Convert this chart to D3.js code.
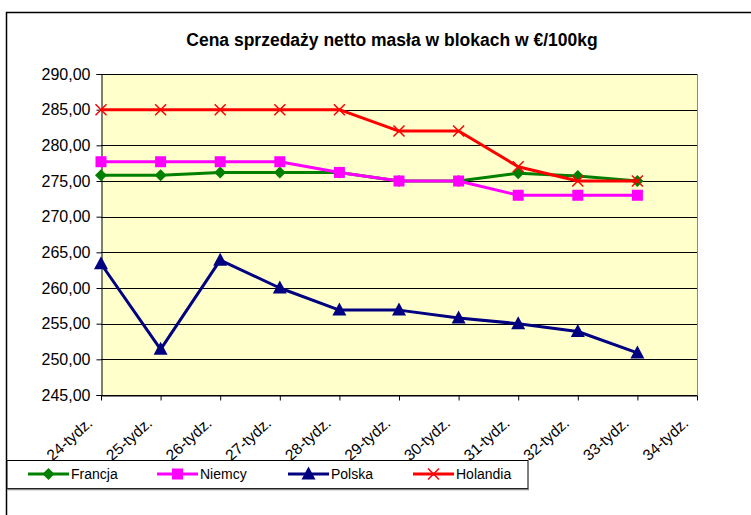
<!DOCTYPE html>
<html>
<head>
<meta charset="utf-8">
<script src="https://cdn.jsdelivr.net/npm/d3@7"></script>
<style>
  body { margin: 0; background: #fff; }
  svg { display: block; font-family: Arial, "Liberation Sans", sans-serif; }
</style>
</head>
<body>
<svg width="751" height="515"></svg>
<script>
const weeks = ['24-tydz.', '25-tydz.', '26-tydz.', '27-tydz.', '28-tydz.', '29-tydz.',
  '30-tydz.', '31-tydz.', '32-tydz.', '33-tydz.', '34-tydz.'];
const francja  = [275.8, 275.8, 276.2, 276.2, 276.2, 275.0, 275.0, 276.1, 275.7, 275.0];
const niemcy   = [277.7, 277.7, 277.7, 277.7, 276.2, 275.0, 275.0, 273.0, 273.0, 273.0];
const polska   = [263.4, 251.4, 263.9, 260.0, 256.9, 256.9, 255.8, 255.0, 253.9, 250.9];
const holandia = [285.0, 285.0, 285.0, 285.0, 285.0, 282.0, 282.0, 277.0, 275.0, 275.0];
const yTicks = [245, 250, 255, 260, 265, 270, 275, 280, 285, 290];

const series = [
  {name: 'Francja', values: francja, color: '#008000', marker: 'diamond'},
  {name: 'Niemcy', values: niemcy, color: '#ff00ff', marker: 'square'},
  {name: 'Polska', values: polska, color: '#000080', marker: 'triangle'},
  {name: 'Holandia', values: holandia, color: '#ff0000', marker: 'cross'},
];

const plot = {left: 101, right: 697, top: 74, bottom: 395};

const svg = d3.select('svg');

// outer chart border (runs off the right and bottom edge)
svg.append('rect')
  .attr('x', 6.5).attr('y', 12.5)
  .attr('width', 800).attr('height', 600)
  .attr('fill', 'none')
  .attr('stroke', '#000')
  .attr('stroke-width', 1.5);

svg.append('text')
  .attr('x', 392).attr('y', 46)
  .attr('text-anchor', 'middle')
  .attr('font-size', 17.5)
  .attr('font-weight', 'bold')
  .text('Cena sprzedaży netto masła w blokach w €/100kg');

const x = d3.scalePoint()
  .domain(weeks)
  .range([plot.left, plot.right]);

const y = d3.scaleLinear()
  .domain([245, 290])
  .range([plot.bottom, plot.top]);

svg.append('rect')
  .attr('x', plot.left).attr('y', plot.top)
  .attr('width', plot.right - plot.left)
  .attr('height', plot.bottom - plot.top)
  .attr('fill', '#ffffcc');

// gridlines
svg.append('g')
  .selectAll('line')
  .data(yTicks)
  .join('line')
  .attr('x1', plot.left).attr('x2', plot.right)
  .attr('y1', d => Math.round(y(d)) + 0.5)
  .attr('y2', d => Math.round(y(d)) + 0.5)
  .attr('stroke', '#000');

svg.append('line')
  .attr('x1', plot.right + 0.5).attr('x2', plot.right + 0.5)
  .attr('y1', plot.top).attr('y2', plot.bottom)
  .attr('stroke', '#888');

const yAxis = d3.axisLeft(y)
  .tickValues(yTicks)
  .tickSize(5)
  .tickPadding(6)
  .tickFormat(d => d.toFixed(2).replace('.', ','));

{
  const g = svg.append('g')
    .attr('transform', `translate(${plot.left + 0.5},0)`)
    .call(yAxis);
  g.select('.domain').attr('stroke', '#000');
  g.selectAll('.tick text')
    .attr('font-size', 16)
    .attr('fill', '#000')
    .attr('font-family', 'Arial, "Liberation Sans", sans-serif');
}

const xAxis = d3.axisBottom(x).tickSize(5).tickSizeOuter(0);

{
  const g = svg.append('g')
    .attr('transform', `translate(0,${plot.bottom + 0.5})`)
    .call(xAxis);
  g.selectAll('.tick text')
    .attr('font-size', 15.5)
    .attr('fill', '#000')
    .attr('font-family', 'Arial, "Liberation Sans", sans-serif')
    .attr('text-anchor', 'end')
    .attr('dy', 0)
    .attr('transform', 'translate(-8,29) rotate(-42)')
    .attr('y', 0);
}

const line = d3.line()
  .x((d, i) => x(weeks[i]))
  .y(d => y(d));

function drawMarker(g, type, color) {
  if (type === 'diamond') {
    g.append('path').attr('d', 'M0,-6L6,0L0,6L-6,0Z').attr('fill', color);
  } else if (type === 'square') {
    g.append('rect').attr('x', -5.5).attr('y', -5.5).attr('width', 11).attr('height', 11).attr('fill', color);
  } else if (type === 'triangle') {
    g.append('path').attr('d', 'M0,-7.5L7,5.5L-7,5.5Z').attr('fill', color);
  } else {
    g.append('path').attr('d', 'M-5.5,-5.5L5.5,5.5M-5.5,5.5L5.5,-5.5')
      .attr('stroke', color).attr('stroke-width', 1.5).attr('fill', 'none');
  }
}

series.forEach(s => {
  const g = svg.append('g');
  g.append('path')
    .datum(s.values)
    .attr('d', line)
    .attr('fill', 'none')
    .attr('stroke', s.color)
    .attr('stroke-width', 3)
    .attr('stroke-linejoin', 'round');
  s.values.forEach((v, i) => {
    const m = g.append('g').attr('transform', `translate(${x(weeks[i])},${y(v)})`);
    drawMarker(m, s.marker, s.color);
  });
});

// legend
const legend = svg.append('g');
legend.append('rect')
  .attr('x', 7).attr('y', 460.5)
  .attr('width', 521).attr('height', 28)
  .attr('fill', '#fff')
  .attr('stroke', '#000');
legend.append('line')
  .attr('x1', 7).attr('x2', 529)
  .attr('y1', 489.5).attr('y2', 489.5)
  .attr('stroke', '#888').attr('stroke-width', 1.5);

const legendX = [28, 157, 288, 413];
series.forEach((s, i) => {
  const g = legend.append('g').attr('transform', `translate(${legendX[i]},474)`);
  g.append('line')
    .attr('x1', 0).attr('x2', 41)
    .attr('stroke', s.color).attr('stroke-width', 3);
  const m = g.append('g').attr('transform', 'translate(20.5,0)');
  drawMarker(m, s.marker, s.color);
  g.append('text')
    .attr('x', 43).attr('dy', '0.35em')
    .attr('font-size', 14)
    .text(s.name);
});
</script>
</body>
</html>
